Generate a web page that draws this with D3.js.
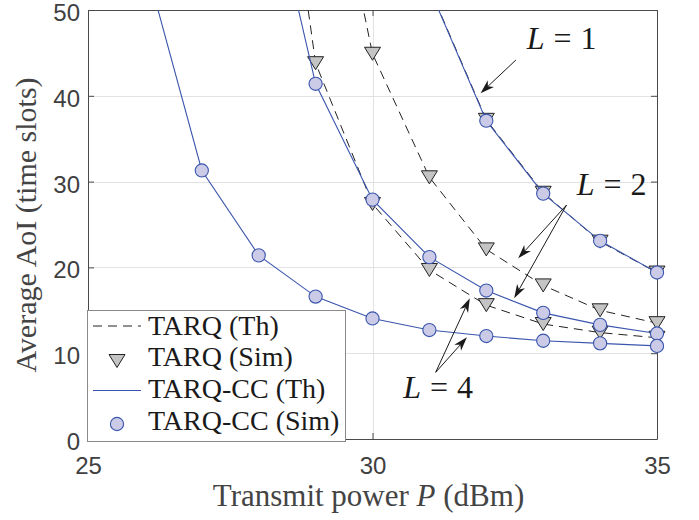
<!DOCTYPE html>
<html>
<head>
<meta charset="utf-8">
<script src="https://cdn.jsdelivr.net/npm/d3@7"></script>
<style>
  body { margin: 0; background: #fff; }
</style>
</head>
<body>
<div id="chart"></div>
<script>
// transmit power (dBm) and average AoI
const power = [26, 27, 28, 29, 30, 31, 32, 33, 34, 35];
const tarqL1 = [null, null, null, null, null, 52.6, 37.2, 28.7, 23.0, 19.4];
const tarqL2 = [null, null, null, 77, 44.9, 30.5, 22.1, 17.9, 15.0, 13.5];
const tarqL4 = [null, null, 91.5, 43.8, 27.4, 19.7, 15.6, 13.4, 12.4, 11.8];
const ccL1 = [null, null, null, null, null, 52.5, 37.1, 28.6, 23.1, 19.4];
const ccL2 = [null, null, 70, 41.4, 27.9, 21.2, 17.3, 14.7, 13.3, 12.3];
const ccL4 = [55.6, 31.3, 21.4, 16.6, 14.05, 12.7, 12.0, 11.45, 11.15, 10.85];

const xTicks = [25, 30, 35];
const yTicks = [0, 10, 20, 30, 40, 50];
const legendLabels = ["TARQ (Th)", "TARQ (Sim)", "TARQ-CC (Th)", "TARQ-CC (Sim)"];

// annotation positions in data units: label, text anchor, arrow start, arrow ends
const notes = [
  {txt: "1", at: [32.71, 45.4], from: [32.52, 44.17], to: [[31.9, 40.3]]},
  {txt: "2", at: [33.59, 28.4], from: [33.41, 27.27], to: [[32.56, 21.06], [32.49, 16.4]]},
  {txt: "4", at: [30.54, 4.75], from: [31.11, 7.77], to: [[31.71, 16.4], [31.66, 11.85]]}
];

const W = 699, H = 520;
const margin = {top: 10, right: 42, bottom: 81, left: 88};
const width = W - margin.left - margin.right,
      height = H - margin.top - margin.bottom;

const blue = "#3a55ad", circFill = "#cbcbe8", triFill = "#c4c4c4";
const axisCol = "#4a4a4a", tickTxt = "#404040";
const serif = "'Liberation Serif', 'Times New Roman', serif";
const sans = "'Liberation Sans', Arial, sans-serif";

const svg = d3.select("#chart").append("svg")
  .attr("width", W).attr("height", H);

const g = svg.append("g")
  .attr("transform", `translate(${margin.left}, ${margin.top})`);

const x = d3.scaleLinear().domain([25, 35]).range([0, width]);
const y = d3.scaleLinear().domain([0, 50]).range([height, 0]);

// grid
g.append("g").selectAll("line").data(yTicks.filter(v => v > 0 && v < 50))
  .enter().append("line")
  .attr("x1", 0).attr("x2", width)
  .attr("y1", d => Math.round(y(d)) + 0.5).attr("y2", d => Math.round(y(d)) + 0.5)
  .attr("stroke", "#e2e2e2").attr("stroke-width", 1);
g.append("g").selectAll("line").data(xTicks.filter(v => v > 25 && v < 35))
  .enter().append("line")
  .attr("y1", 0).attr("y2", height)
  .attr("x1", d => Math.round(x(d)) + 0.5).attr("x2", d => Math.round(x(d)) + 0.5)
  .attr("stroke", "#e2e2e2").attr("stroke-width", 1);

// axes
const styleAxis = (sel) => {
  sel.select(".domain").attr("stroke", axisCol);
  sel.selectAll(".tick line").attr("stroke", axisCol);
  sel.selectAll("text").attr("fill", tickTxt)
    .style("font-family", sans).style("font-size", "24px");
};

g.append("g")
  .attr("transform", `translate(0, ${height})`)
  .call(d3.axisBottom(x).tickValues(xTicks).tickSizeInner(-6).tickSizeOuter(0).tickPadding(18).tickFormat(d3.format("d")))
  .call(styleAxis);
g.append("g")
  .call(d3.axisLeft(y).tickValues(yTicks).tickSizeInner(-6).tickSizeOuter(0).tickPadding(8).tickFormat(d3.format("d")))
  .call(styleAxis)
  .call(s => s.selectAll("text").attr("dy", null).attr("y", 10.5));
g.append("g")
  .call(d3.axisTop(x).tickValues(xTicks).tickSizeInner(-6).tickSizeOuter(0).tickFormat(""))
  .call(styleAxis);
g.append("g")
  .attr("transform", `translate(${width}, 0)`)
  .call(d3.axisRight(y).tickValues(yTicks).tickSizeInner(-6).tickSizeOuter(0).tickFormat(""))
  .call(styleAxis);

// clip for lines
svg.append("defs").append("clipPath").attr("id", "plotclip")
  .append("rect").attr("width", width).attr("height", height);

const toPts = (vals) => power.map((p, i) => ({p: p, v: vals[i]})).filter(d => d.v !== null);
const line = d3.line().x(d => x(d.p)).y(d => y(d.v));

const lines = g.append("g").attr("clip-path", "url(#plotclip)");
const marks = g.append("g");

const triPath = (cx, cy) => `M${cx - 8},${cy - 6.5}L${cx + 8},${cy - 6.5}L${cx},${cy + 6.5}Z`;

[tarqL1, tarqL2, tarqL4].forEach(s => {
  lines.append("path").datum(toPts(s))
    .attr("d", line).attr("fill", "none")
    .attr("stroke", "#222").attr("stroke-width", 1)
    .attr("stroke-dasharray", "9,6");
});
[tarqL1, tarqL2, tarqL4].forEach(s => {
  marks.append("g").selectAll("path").data(toPts(s).filter(d => d.v <= 50))
    .enter().append("path")
    .attr("d", d => triPath(x(d.p), y(d.v)))
    .attr("fill", triFill).attr("stroke", "#222").attr("stroke-width", 1);
});

const ccLines = g.append("g").attr("clip-path", "url(#plotclip)");
const ccMarks = g.append("g");
[ccL1, ccL2, ccL4].forEach(s => {
  ccLines.append("path").datum(toPts(s))
    .attr("d", line).attr("fill", "none")
    .attr("stroke", blue).attr("stroke-width", 1.1);
});
[ccL1, ccL2, ccL4].forEach(s => {
  ccMarks.append("g").selectAll("circle").data(toPts(s).filter(d => d.v <= 50))
    .enter().append("circle")
    .attr("cx", d => x(d.p)).attr("cy", d => y(d.v)).attr("r", 6.6)
    .attr("fill", circFill).attr("stroke", blue).attr("stroke-width", 1.1);
});

// annotations
const ann = g.append("g");
const arrow = (x1, y1, x2, y2) => {
  const a = Math.atan2(y2 - y1, x2 - x1), c = Math.cos(a), s = Math.sin(a);
  const L = 14, w = 4.5, b = 10;
  const px = (u, v) => [x2 - u * c - v * s, y2 - u * s + v * c];
  ann.append("line").attr("x1", x1).attr("y1", y1)
    .attr("x2", px(b, 0)[0]).attr("y2", px(b, 0)[1])
    .attr("stroke", "#1a1a1a").attr("stroke-width", 1);
  ann.append("path")
    .attr("d", "M" + [px(0, 0), px(L, w), px(b, 0), px(L, -w)].map(q => q.join(",")).join("L") + "Z")
    .attr("fill", "#1a1a1a");
};
notes.forEach(n => {
  n.to.forEach(t => arrow(x(n.from[0]), y(n.from[1]), x(t[0]), y(t[1])));
  const t = ann.append("text")
    .attr("x", x(n.at[0])).attr("y", y(n.at[1]))
    .style("font-family", serif).style("font-size", "32px").attr("fill", "#1a1a1a");
  t.append("tspan").style("font-style", "italic").text("L");
  t.append("tspan").attr("dx", 9).text("=");
  t.append("tspan").attr("dx", 9).text(n.txt);
});

// axis labels
svg.append("text")
  .attr("x", margin.left + x(30) - 4).attr("y", 506)
  .attr("text-anchor", "middle").attr("fill", "#444")
  .style("font-family", serif).style("font-size", "31px")
  .call(t => {
    t.append("tspan").text("Transmit power ");
    t.append("tspan").style("font-style", "italic").text("P");
    t.append("tspan").text(" (dBm)");
  });
svg.append("text")
  .attr("transform", "translate(36, 225) rotate(-90)")
  .attr("text-anchor", "middle").attr("fill", "#444")
  .style("font-family", serif).style("font-size", "30px")
  .text("Average AoI (time slots)");

// legend
const leg = g.append("g").attr("transform", "translate(-1, 300)");
leg.append("rect").attr("x", 0.5).attr("y", 0.5).attr("width", 258).attr("height", 131)
  .attr("fill", "#fff").attr("stroke", "#8a8a8a").attr("stroke-width", 1);
const rowY = [16, 51, 80.5, 114];
leg.append("line").attr("x1", 6).attr("x2", 54).attr("y1", rowY[0]).attr("y2", rowY[0])
  .attr("stroke", "#222").attr("stroke-dasharray", "9,6");
leg.append("path").attr("d", triPath(30, rowY[1]))
  .attr("fill", triFill).attr("stroke", "#222");
leg.append("line").attr("x1", 6).attr("x2", 54).attr("y1", rowY[2]).attr("y2", rowY[2])
  .attr("stroke", blue).attr("stroke-width", 1.1);
leg.append("circle").attr("cx", 30).attr("cy", rowY[3]).attr("r", 6.6)
  .attr("fill", circFill).attr("stroke", blue).attr("stroke-width", 1.1);
leg.selectAll("text.lab").data(legendLabels).enter().append("text")
  .attr("class", "lab")
  .attr("x", 61).attr("y", (d, i) => 24.5 + i * 31.9)
  .style("font-family", serif).style("font-size", "28px").attr("fill", "#1a1a1a")
  .text(d => d);
</script>
</body>
</html>
